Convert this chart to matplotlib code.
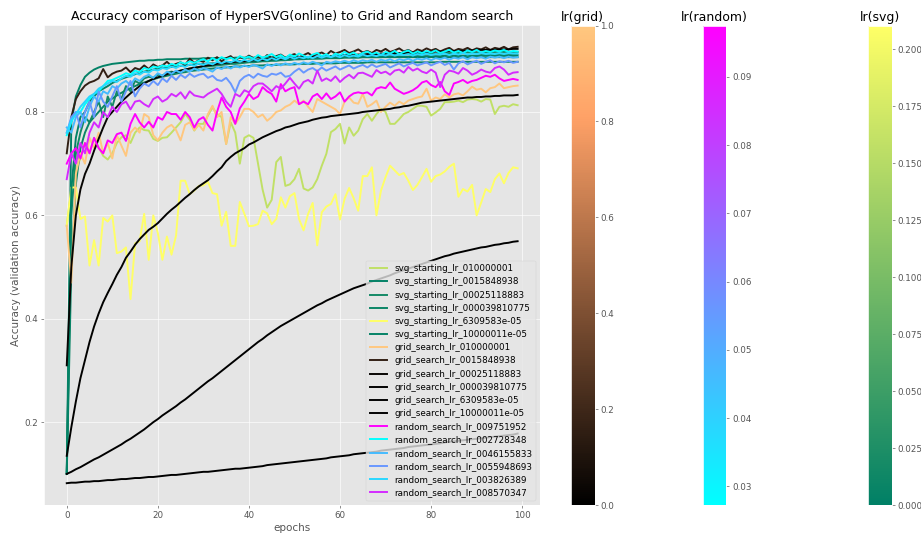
import numpy as np
import matplotlib
matplotlib.use('Agg')
import matplotlib.pyplot as plt
import matplotlib as mpl

plt.style.use('ggplot')
plt.rcParams['font.size'] = 10.8

epochs = list(range(100))

# learning rates used for the labels / colours
grid_lr = [0.10000001, 0.015848938, 0.0025118883, 0.00039810775, 6.309583e-05, 1.0000011e-05]
grid_labels = ['grid_search_lr_010000001', 'grid_search_lr_0015848938', 'grid_search_lr_00025118883',
               'grid_search_lr_000039810775', 'grid_search_lr_6309583e-05', 'grid_search_lr_10000011e-05']
random_lr = [0.09751952, 0.02728348, 0.046155833, 0.055948693, 0.03826389, 0.08570347]
random_labels = ['random_search_lr_009751952', 'random_search_lr_002728348', 'random_search_lr_0046155833',
                 'random_search_lr_0055948693', 'random_search_lr_003826389', 'random_search_lr_008570347']
svg_labels = ['svg_starting_lr_010000001', 'svg_starting_lr_0015848938', 'svg_starting_lr_00025118883',
              'svg_starting_lr_000039810775', 'svg_starting_lr_6309583e-05', 'svg_starting_lr_10000011e-05']
# final lr reached by HyperSVG (used for colour)
svg_final_lr = [0.158, 0.002, 0.016, 0.009, 0.2103, 0.004]

# ---- accuracy curves ----
svg_0 = [0.58, 0.65, 0.69, 0.71, 0.74, 0.72, 0.75, 0.732, 0.715, 0.708,
         0.72, 0.74, 0.751, 0.755, 0.74, 0.76, 0.77, 0.765, 0.764, 0.748,
         0.744, 0.75, 0.751, 0.76, 0.77, 0.78, 0.796, 0.785, 0.764, 0.777,
         0.777, 0.793, 0.809, 0.796, 0.79, 0.738, 0.78, 0.76, 0.70, 0.75,
         0.755, 0.75, 0.70, 0.65, 0.615, 0.63, 0.703, 0.713, 0.657, 0.66,
         0.67, 0.69, 0.652, 0.648, 0.654, 0.67, 0.696, 0.719, 0.761, 0.767,
         0.777, 0.739, 0.77, 0.754, 0.764, 0.786, 0.796, 0.783, 0.796, 0.806,
         0.80, 0.777, 0.777, 0.786, 0.796, 0.80, 0.806, 0.812, 0.812, 0.81,
         0.793, 0.799, 0.806, 0.819, 0.819, 0.82, 0.822, 0.819, 0.824, 0.825,
         0.824, 0.82, 0.825, 0.824, 0.796, 0.81, 0.812, 0.81, 0.815, 0.813]
svg_1 = [0.10, 0.78, 0.83, 0.852, 0.868, 0.876, 0.882, 0.886, 0.889, 0.891,
         0.893, 0.894, 0.895, 0.896, 0.897, 0.898, 0.899, 0.899, 0.900, 0.900,
         0.901, 0.901, 0.902, 0.902, 0.902, 0.902, 0.903, 0.903, 0.903, 0.903,
         0.904, 0.904, 0.904, 0.904, 0.904, 0.904, 0.904, 0.905, 0.905, 0.905,
         0.905, 0.905, 0.905, 0.905, 0.905, 0.905, 0.905, 0.905, 0.905, 0.905,
         0.906, 0.906, 0.906, 0.906, 0.906, 0.906, 0.906, 0.906, 0.906, 0.906,
         0.906, 0.906, 0.906, 0.906, 0.906, 0.906, 0.906, 0.906, 0.906, 0.906,
         0.906, 0.906, 0.906, 0.906, 0.906, 0.906, 0.906, 0.906, 0.906, 0.906,
         0.906, 0.906, 0.906, 0.906, 0.906, 0.906, 0.906, 0.906, 0.906, 0.906,
         0.906, 0.906, 0.906, 0.906, 0.906, 0.906, 0.906, 0.906, 0.906, 0.906]
svg_2 = [0.10, 0.60, 0.72, 0.76, 0.79, 0.78, 0.80, 0.82, 0.79, 0.83,
         0.81, 0.84, 0.825, 0.85, 0.84, 0.86, 0.855, 0.865, 0.868, 0.866,
         0.872, 0.87, 0.876, 0.878, 0.876, 0.88, 0.882, 0.884, 0.883, 0.886,
         0.887, 0.888, 0.889, 0.89, 0.891, 0.892, 0.893, 0.893, 0.894, 0.895,
         0.896, 0.896, 0.897, 0.898, 0.898, 0.899, 0.899, 0.90, 0.90, 0.901,
         0.902, 0.902, 0.903, 0.903, 0.904, 0.904, 0.905, 0.905, 0.906, 0.906,
         0.907, 0.907, 0.907, 0.908, 0.908, 0.909, 0.909, 0.909, 0.91, 0.91,
         0.91, 0.911, 0.911, 0.911, 0.912, 0.912, 0.912, 0.912, 0.913, 0.913,
         0.913, 0.913, 0.914, 0.914, 0.914, 0.914, 0.914, 0.915, 0.915, 0.915,
         0.915, 0.915, 0.915, 0.916, 0.916, 0.916, 0.916, 0.916, 0.916, 0.916]
svg_3 = [0.10, 0.50, 0.66, 0.73, 0.76, 0.78, 0.79, 0.80, 0.81, 0.82,
         0.826, 0.832, 0.837, 0.842, 0.846, 0.85, 0.854, 0.857, 0.86, 0.863,
         0.866, 0.868, 0.87, 0.872, 0.874, 0.876, 0.877, 0.879, 0.88, 0.881,
         0.882, 0.883, 0.884, 0.885, 0.886, 0.886, 0.887, 0.888, 0.888, 0.889,
         0.889, 0.89, 0.89, 0.89, 0.891, 0.891, 0.891, 0.892, 0.892, 0.892,
         0.892, 0.893, 0.893, 0.893, 0.893, 0.894, 0.894, 0.894, 0.894, 0.894,
         0.895, 0.895, 0.895, 0.895, 0.895, 0.895, 0.896, 0.896, 0.896, 0.896,
         0.896, 0.896, 0.896, 0.896, 0.896, 0.896, 0.896, 0.896, 0.896, 0.896,
         0.896, 0.896, 0.897, 0.897, 0.897, 0.897, 0.897, 0.897, 0.897, 0.897,
         0.897, 0.897, 0.897, 0.897, 0.897, 0.897, 0.897, 0.897, 0.897, 0.897]
svg_4 = [0.58, 0.654, 0.654, 0.593, 0.598, 0.503, 0.552, 0.503, 0.595, 0.588,
         0.600, 0.527, 0.53, 0.538, 0.438, 0.546, 0.55, 0.603, 0.514, 0.600,
         0.566, 0.514, 0.559, 0.524, 0.561, 0.667, 0.667, 0.641, 0.648, 0.657,
         0.658, 0.665, 0.643, 0.641, 0.58, 0.607, 0.541, 0.541, 0.626, 0.603,
         0.579, 0.58, 0.583, 0.609, 0.604, 0.583, 0.593, 0.635, 0.615, 0.637,
         0.643, 0.593, 0.571, 0.603, 0.624, 0.542, 0.606, 0.617, 0.622, 0.641,
         0.592, 0.632, 0.653, 0.633, 0.609, 0.676, 0.676, 0.693, 0.60, 0.648,
         0.674, 0.696, 0.687, 0.678, 0.682, 0.667, 0.649, 0.659, 0.674, 0.690,
         0.665, 0.676, 0.679, 0.685, 0.694, 0.70, 0.636, 0.651, 0.646, 0.659,
         0.60, 0.625, 0.651, 0.645, 0.670, 0.681, 0.662, 0.682, 0.693, 0.691]
svg_5 = [0.10, 0.65, 0.75, 0.79, 0.80, 0.82, 0.83, 0.84, 0.845, 0.85,
         0.856, 0.86, 0.864, 0.867, 0.87, 0.873, 0.876, 0.878, 0.88, 0.882,
         0.884, 0.885, 0.886, 0.887, 0.888, 0.889, 0.89, 0.891, 0.892, 0.893,
         0.893, 0.894, 0.894, 0.895, 0.895, 0.896, 0.896, 0.897, 0.897, 0.898,
         0.898, 0.898, 0.899, 0.899, 0.90, 0.90, 0.90, 0.901, 0.901, 0.901,
         0.902, 0.902, 0.902, 0.903, 0.903, 0.903, 0.903, 0.904, 0.904, 0.904,
         0.904, 0.905, 0.905, 0.905, 0.905, 0.906, 0.906, 0.906, 0.906, 0.906,
         0.907, 0.907, 0.907, 0.907, 0.907, 0.907, 0.908, 0.908, 0.908, 0.908,
         0.908, 0.908, 0.908, 0.909, 0.909, 0.909, 0.909, 0.909, 0.909, 0.909,
         0.909, 0.91, 0.91, 0.91, 0.91, 0.91, 0.91, 0.91, 0.91, 0.91]

grid_0 = [0.58, 0.47, 0.68, 0.72, 0.70, 0.75, 0.73, 0.76, 0.72, 0.74,
          0.71, 0.755, 0.735, 0.715, 0.76, 0.77, 0.76, 0.796, 0.79, 0.755,
          0.745, 0.76, 0.77, 0.775, 0.765, 0.745, 0.775, 0.78, 0.765, 0.775,
          0.764, 0.796, 0.812, 0.79, 0.80, 0.738, 0.79, 0.777, 0.79, 0.806,
          0.806, 0.80, 0.79, 0.795, 0.783, 0.79, 0.80, 0.803, 0.81, 0.814,
          0.822, 0.815, 0.822, 0.81, 0.80, 0.825, 0.82, 0.815, 0.81, 0.805,
          0.796, 0.82, 0.828, 0.818, 0.816, 0.835, 0.81, 0.815, 0.822, 0.80,
          0.81, 0.818, 0.812, 0.82, 0.815, 0.822, 0.825, 0.828, 0.83, 0.845,
          0.822, 0.828, 0.825, 0.834, 0.828, 0.834, 0.836, 0.832, 0.84, 0.849,
          0.843, 0.845, 0.838, 0.846, 0.848, 0.855, 0.846, 0.848, 0.85, 0.851]
grid_1 = [0.72, 0.79, 0.825, 0.84, 0.851, 0.857, 0.86, 0.865, 0.883, 0.867,
          0.874, 0.878, 0.88, 0.886, 0.877, 0.885, 0.882, 0.89, 0.883, 0.892,
          0.887, 0.89, 0.897, 0.889, 0.893, 0.896, 0.891, 0.903, 0.895, 0.90,
          0.897, 0.905, 0.90, 0.906, 0.898, 0.904, 0.908, 0.90, 0.906, 0.903,
          0.909, 0.904, 0.907, 0.902, 0.91, 0.905, 0.908, 0.911, 0.905, 0.909,
          0.912, 0.906, 0.91, 0.914, 0.908, 0.912, 0.915, 0.91, 0.918, 0.913,
          0.916, 0.92, 0.914, 0.917, 0.921, 0.915, 0.918, 0.914, 0.92, 0.917,
          0.922, 0.916, 0.919, 0.923, 0.917, 0.92, 0.915, 0.921, 0.918, 0.923,
          0.919, 0.922, 0.917, 0.921, 0.924, 0.918, 0.922, 0.92, 0.924, 0.919,
          0.923, 0.921, 0.925, 0.92, 0.924, 0.922, 0.926, 0.921, 0.925, 0.926]
grid_2 = [0.31, 0.50, 0.60, 0.65, 0.68, 0.70, 0.725, 0.748, 0.77, 0.79,
          0.80, 0.81, 0.82, 0.828, 0.836, 0.843, 0.85, 0.855, 0.86, 0.864,
          0.867, 0.87, 0.873, 0.876, 0.878, 0.88, 0.882, 0.884, 0.886, 0.887,
          0.889, 0.89, 0.891, 0.893, 0.894, 0.895, 0.896, 0.897, 0.898, 0.898,
          0.899, 0.90, 0.90, 0.901, 0.902, 0.902, 0.903, 0.903, 0.904, 0.904,
          0.905, 0.905, 0.906, 0.906, 0.907, 0.907, 0.907, 0.908, 0.908, 0.909,
          0.909, 0.91, 0.91, 0.91, 0.911, 0.911, 0.912, 0.912, 0.912, 0.913,
          0.913, 0.913, 0.914, 0.914, 0.914, 0.915, 0.915, 0.915, 0.916, 0.916,
          0.916, 0.917, 0.917, 0.917, 0.918, 0.918, 0.918, 0.918, 0.919, 0.919,
          0.919, 0.92, 0.92, 0.92, 0.92, 0.921, 0.921, 0.921, 0.922, 0.922]
grid_3 = [0.135, 0.19, 0.24, 0.285, 0.32, 0.355, 0.385, 0.41, 0.432, 0.45,
          0.467, 0.485, 0.50, 0.518, 0.53, 0.543, 0.554, 0.563, 0.572, 0.578,
          0.585, 0.594, 0.603, 0.611, 0.618, 0.626, 0.634, 0.641, 0.649, 0.656,
          0.662, 0.668, 0.676, 0.685, 0.693, 0.705, 0.713, 0.72, 0.725, 0.73,
          0.737, 0.741, 0.746, 0.751, 0.755, 0.759, 0.763, 0.766, 0.770, 0.772,
          0.775, 0.778, 0.780, 0.782, 0.785, 0.787, 0.789, 0.790, 0.792, 0.793,
          0.794, 0.795, 0.796, 0.797, 0.798, 0.800, 0.801, 0.802, 0.803, 0.804,
          0.805, 0.806, 0.808, 0.809, 0.811, 0.812, 0.814, 0.816, 0.818, 0.819,
          0.820, 0.821, 0.822, 0.823, 0.824, 0.825, 0.826, 0.827, 0.828, 0.828,
          0.829, 0.829, 0.830, 0.830, 0.831, 0.831, 0.832, 0.832, 0.832, 0.833]
grid_4 = [0.100, 0.104, 0.109, 0.113, 0.118, 0.123, 0.128, 0.132, 0.137, 0.142,
          0.147, 0.152, 0.157, 0.163, 0.168, 0.174, 0.180, 0.186, 0.193, 0.200,
          0.206, 0.213, 0.219, 0.225, 0.231, 0.238, 0.244, 0.251, 0.258, 0.265,
          0.272, 0.279, 0.285, 0.292, 0.299, 0.306, 0.313, 0.320, 0.327, 0.334,
          0.341, 0.348, 0.355, 0.361, 0.368, 0.374, 0.380, 0.386, 0.391, 0.396,
          0.401, 0.406, 0.411, 0.416, 0.421, 0.426, 0.430, 0.435, 0.439, 0.443,
          0.447, 0.451, 0.455, 0.459, 0.462, 0.465, 0.468, 0.472, 0.475, 0.478,
          0.481, 0.484, 0.488, 0.491, 0.494, 0.497, 0.500, 0.503, 0.506, 0.509,
          0.512, 0.515, 0.518, 0.521, 0.523, 0.526, 0.528, 0.530, 0.532, 0.534,
          0.536, 0.538, 0.539, 0.541, 0.543, 0.544, 0.546, 0.547, 0.549, 0.550]
grid_5 = [0.082, 0.083, 0.083, 0.084, 0.085, 0.085, 0.086, 0.086, 0.087, 0.088,
          0.088, 0.089, 0.090, 0.090, 0.091, 0.092, 0.092, 0.093, 0.094, 0.094,
          0.095, 0.096, 0.097, 0.098, 0.098, 0.099, 0.100, 0.101, 0.102, 0.103,
          0.104, 0.104, 0.105, 0.106, 0.107, 0.108, 0.109, 0.110, 0.110, 0.111,
          0.112, 0.113, 0.114, 0.115, 0.117, 0.118, 0.119, 0.120, 0.121, 0.122,
          0.123, 0.124, 0.125, 0.126, 0.127, 0.128, 0.129, 0.130, 0.132, 0.133,
          0.134, 0.135, 0.136, 0.138, 0.139, 0.140, 0.141, 0.142, 0.143, 0.145,
          0.146, 0.147, 0.148, 0.149, 0.150, 0.152, 0.153, 0.154, 0.155, 0.156,
          0.157, 0.158, 0.159, 0.161, 0.162, 0.163, 0.164, 0.165, 0.166, 0.167,
          0.168, 0.169, 0.170, 0.171, 0.172, 0.173, 0.174, 0.175, 0.176, 0.178]

random_0 = [0.70, 0.72, 0.73, 0.71, 0.74, 0.72, 0.75, 0.73, 0.72, 0.745,
            0.74, 0.757, 0.76, 0.744, 0.777, 0.796, 0.78, 0.77, 0.781, 0.77,
            0.79, 0.785, 0.80, 0.796, 0.796, 0.785, 0.80, 0.79, 0.77, 0.785,
            0.79, 0.775, 0.764, 0.80, 0.828, 0.81, 0.80, 0.777, 0.807, 0.82,
            0.835, 0.825, 0.83, 0.848, 0.84, 0.835, 0.82, 0.854, 0.84, 0.845,
            0.848, 0.815, 0.82, 0.815, 0.83, 0.835, 0.825, 0.836, 0.825, 0.83,
            0.838, 0.82, 0.83, 0.836, 0.838, 0.836, 0.838, 0.832, 0.845, 0.848,
            0.846, 0.857, 0.845, 0.84, 0.835, 0.838, 0.842, 0.848, 0.857, 0.86,
            0.852, 0.848, 0.858, 0.84, 0.833, 0.855, 0.858, 0.862, 0.856, 0.86,
            0.862, 0.866, 0.87, 0.868, 0.872, 0.865, 0.86, 0.862, 0.864, 0.862]
random_1 = [0.755, 0.78, 0.80, 0.80, 0.815, 0.825, 0.835, 0.84, 0.85, 0.86,
            0.862, 0.866, 0.87, 0.875, 0.872, 0.88, 0.877, 0.885, 0.882, 0.888,
            0.886, 0.89, 0.888, 0.893, 0.89, 0.896, 0.893, 0.898, 0.895, 0.899,
            0.902, 0.898, 0.904, 0.90, 0.906, 0.902, 0.905, 0.90, 0.908, 0.904,
            0.907, 0.903, 0.91, 0.905, 0.908, 0.912, 0.906, 0.91, 0.904, 0.911,
            0.907, 0.913, 0.909, 0.905, 0.911, 0.914, 0.908, 0.912, 0.906, 0.913,
            0.91, 0.916, 0.911, 0.915, 0.909, 0.914, 0.917, 0.912, 0.915, 0.91,
            0.916, 0.913, 0.918, 0.912, 0.916, 0.919, 0.913, 0.917, 0.914, 0.918,
            0.915, 0.919, 0.914, 0.917, 0.92, 0.915, 0.918, 0.914, 0.919, 0.916,
            0.92, 0.915, 0.918, 0.916, 0.919, 0.917, 0.92, 0.916, 0.918, 0.917]
random_2 = [0.77, 0.76, 0.79, 0.80, 0.78, 0.81, 0.83, 0.82, 0.84, 0.835,
            0.85, 0.845, 0.855, 0.86, 0.852, 0.865, 0.86, 0.868, 0.872, 0.866,
            0.875, 0.87, 0.878, 0.874, 0.88, 0.876, 0.882, 0.878, 0.884, 0.88,
            0.885, 0.882, 0.878, 0.886, 0.883, 0.888, 0.884, 0.889, 0.886, 0.89,
            0.887, 0.891, 0.888, 0.884, 0.892, 0.889, 0.893, 0.89, 0.894, 0.891,
            0.895, 0.892, 0.896, 0.893, 0.897, 0.894, 0.89, 0.897, 0.895, 0.898,
            0.896, 0.899, 0.896, 0.90, 0.897, 0.90, 0.898, 0.901, 0.897, 0.901,
            0.899, 0.902, 0.898, 0.902, 0.90, 0.903, 0.899, 0.903, 0.901, 0.904,
            0.90, 0.904, 0.902, 0.905, 0.901, 0.905, 0.903, 0.906, 0.902, 0.906,
            0.904, 0.906, 0.903, 0.907, 0.905, 0.907, 0.904, 0.907, 0.905, 0.906]
random_3 = [0.76, 0.79, 0.80, 0.77, 0.80, 0.82, 0.79, 0.84, 0.82, 0.81,
            0.83, 0.85, 0.82, 0.84, 0.86, 0.83, 0.845, 0.855, 0.85, 0.86,
            0.852, 0.865, 0.858, 0.87, 0.862, 0.872, 0.866, 0.874, 0.868, 0.872,
            0.874, 0.866, 0.87, 0.862, 0.86, 0.866, 0.855, 0.838, 0.86, 0.868,
            0.872, 0.866, 0.874, 0.87, 0.868, 0.874, 0.872, 0.876, 0.868, 0.87,
            0.878, 0.884, 0.876, 0.882, 0.885, 0.879, 0.886, 0.88, 0.884, 0.888,
            0.882, 0.886, 0.89, 0.884, 0.888, 0.891, 0.886, 0.892, 0.887, 0.89,
            0.893, 0.886, 0.89, 0.894, 0.888, 0.892, 0.895, 0.89, 0.893, 0.896,
            0.89, 0.894, 0.897, 0.891, 0.895, 0.882, 0.894, 0.898, 0.892, 0.896,
            0.899, 0.893, 0.897, 0.90, 0.894, 0.898, 0.896, 0.899, 0.895, 0.897]
random_4 = [0.76, 0.785, 0.795, 0.81, 0.82, 0.83, 0.835, 0.845, 0.85, 0.855,
            0.86, 0.858, 0.865, 0.87, 0.868, 0.875, 0.872, 0.878, 0.876, 0.882,
            0.88, 0.885, 0.883, 0.888, 0.885, 0.89, 0.887, 0.892, 0.889, 0.894,
            0.891, 0.895, 0.892, 0.897, 0.894, 0.898, 0.896, 0.90, 0.897, 0.901,
            0.898, 0.902, 0.899, 0.903, 0.90, 0.904, 0.901, 0.905, 0.902, 0.906,
            0.903, 0.906, 0.904, 0.907, 0.904, 0.908, 0.905, 0.908, 0.906, 0.909,
            0.906, 0.91, 0.907, 0.909, 0.907, 0.911, 0.908, 0.91, 0.908, 0.911,
            0.909, 0.912, 0.909, 0.911, 0.91, 0.912, 0.909, 0.912, 0.91, 0.913,
            0.91, 0.912, 0.911, 0.913, 0.91, 0.913, 0.911, 0.914, 0.911, 0.913,
            0.912, 0.914, 0.912, 0.913, 0.912, 0.914, 0.912, 0.914, 0.913, 0.913]
random_5 = [0.67, 0.72, 0.70, 0.74, 0.72, 0.76, 0.78, 0.77, 0.80, 0.79,
            0.81, 0.80, 0.815, 0.82, 0.805, 0.82, 0.822, 0.815, 0.81, 0.825,
            0.83, 0.82, 0.825, 0.835, 0.83, 0.838, 0.826, 0.84, 0.832, 0.83,
            0.828, 0.835, 0.84, 0.845, 0.835, 0.82, 0.81, 0.835, 0.83, 0.842,
            0.838, 0.85, 0.855, 0.855, 0.848, 0.84, 0.85, 0.845, 0.855, 0.866,
            0.855, 0.845, 0.858, 0.862, 0.855, 0.88, 0.86, 0.865, 0.86, 0.869,
            0.858, 0.866, 0.872, 0.865, 0.875, 0.876, 0.872, 0.868, 0.881, 0.875,
            0.878, 0.872, 0.88, 0.882, 0.876, 0.887, 0.88, 0.884, 0.878, 0.875,
            0.882, 0.876, 0.848, 0.872, 0.88, 0.878, 0.874, 0.885, 0.88, 0.872,
            0.876, 0.882, 0.878, 0.876, 0.885, 0.888, 0.882, 0.872, 0.876, 0.877]

svg_runs = [svg_0, svg_1, svg_2, svg_3, svg_4, svg_5]
grid_runs = [grid_0, grid_1, grid_2, grid_3, grid_4, grid_5]
random_runs = [random_0, random_1, random_2, random_3, random_4, random_5]

# colour maps / norms
grid_cmap = plt.get_cmap('copper')
grid_norm = mpl.colors.Normalize(vmin=0.0, vmax=1.0)
random_cmap = plt.get_cmap('cool')
random_norm = mpl.colors.Normalize(vmin=min(random_lr), vmax=max(random_lr))
svg_cmap = plt.get_cmap('summer')
svg_norm = mpl.colors.Normalize(vmin=0.0, vmax=max(svg_final_lr))

DPI = 58
fig = plt.figure(figsize=(921 / DPI, 533 / DPI), dpi=DPI)
ax = fig.add_axes([0.048, 0.0525, 0.5385, 0.9006])

lw = 2.4
for run, lab, c in zip(svg_runs, svg_labels, svg_final_lr):
    ax.plot(epochs, run, color=svg_cmap(svg_norm(c)), label=lab, lw=lw)
for run, lab, lr in zip(grid_runs, grid_labels, grid_lr):
    ax.plot(epochs, run, color=grid_cmap(grid_norm(lr / max(grid_lr))), label=lab, lw=lw)
for run, lab, lr in zip(random_runs, random_labels, random_lr):
    ax.plot(epochs, run, color=random_cmap(random_norm(lr)), label=lab, lw=lw)

ax.set_title('Accuracy comparison of HyperSVG(online) to Grid and Random search')
ax.set_xlabel('epochs')
ax.set_ylabel('Accuracy (validation accuracy)')
ax.set_yticks([0.2, 0.4, 0.6, 0.8])
ax.legend(loc='lower right', labelspacing=0.48)

# colour bars
for left, cmap, norm, title in [(0.6200, grid_cmap, grid_norm, 'lr(grid)'),
                                (0.7633, random_cmap, random_norm, 'lr(random)'),
                                (0.9425, svg_cmap, svg_norm, 'lr(svg)')]:
    cax = fig.add_axes([left, 0.0525, 0.0255, 0.8996])
    sm = mpl.cm.ScalarMappable(norm=norm, cmap=cmap)
    fig.colorbar(sm, cax=cax)
    cax.grid(False)
    cax.set_title(title)

fig.savefig('out.png', dpi=DPI)
